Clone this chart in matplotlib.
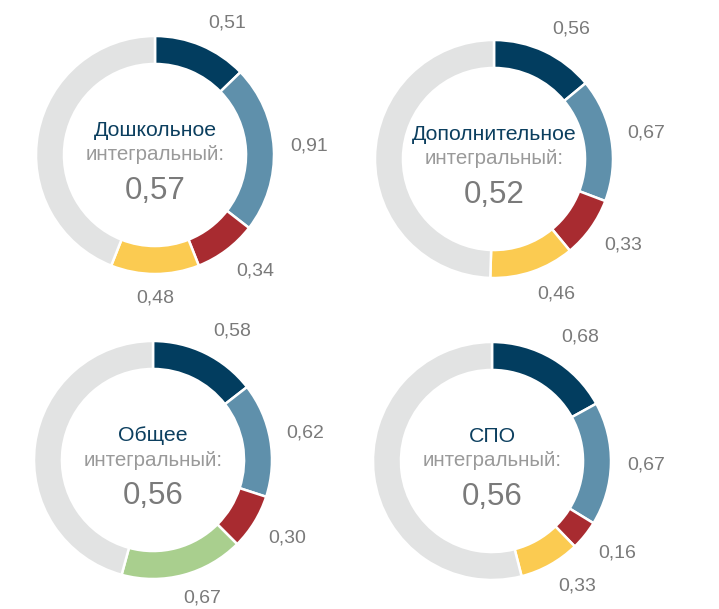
import numpy as np
import matplotlib
matplotlib.use("Agg")
import matplotlib.pyplot as plt

plt.rcParams['font.family'] = ['Liberation Sans', 'DejaVu Sans']

# Data
titles = ["Дошкольное", "Дополнительное", "Общее", "СПО"]
integral = [0.57, 0.52, 0.56, 0.56]
doshkolnoe = [0.51, 0.91, 0.34, 0.48]
dopolnitelnoe = [0.56, 0.67, 0.33, 0.46]
obshchee = [0.58, 0.62, 0.30, 0.67]
spo = [0.68, 0.67, 0.16, 0.33]
series = [doshkolnoe, dopolnitelnoe, obshchee, spo]

NAVY = "#023d5f"
STEEL = "#5f90ab"
RED = "#a82b30"
YELLOW = "#fbcb51"
GREEN = "#a9cf8e"
REST = "#e2e3e3"
TEXT_GREY = "#7a7a7a"
seg_colors = [
    [NAVY, STEEL, RED, YELLOW],
    [NAVY, STEEL, RED, YELLOW],
    [NAVY, STEEL, RED, GREEN],
    [NAVY, STEEL, RED, YELLOW],
]

W, H = 719, 609
fig = plt.figure(figsize=(W / 100, H / 100), dpi=100)

# donut centres and outer radius in pixels (from top-left)
centres = [(155, 155), (494, 159), (153, 460), (492, 461)]
R = 119
LIM = 1.45

LABEL_R = 1.135      # distance of the label's nearest corner from the centre
HALF_W_PT = 14.0     # half width of a value label, points
HALF_H_PT = 5.4      # half height of a value label, points

def fmt(v):
    return f"{v:.2f}".replace(".", ",")

for i, vals in enumerate(series):
    cx, cy = centres[i]
    half = LIM * R
    ax = fig.add_axes([(cx - half) / W, (H - cy - half) / H, 2 * half / W, 2 * half / H])

    parts = [v / 4 for v in vals]
    parts.append(1 - sum(parts))
    wedges, _ = ax.pie(parts, colors=seg_colors[i] + [REST], startangle=90,
                       counterclock=False, radius=1.0, normalize=False,
                       wedgeprops=dict(width=0.235, edgecolor="white", linewidth=1.8))
    ax.set_xlim(-LIM, LIM)
    ax.set_ylim(-LIM, LIM)
    ax.set_aspect("equal")
    ax.axis("off")

    for w, v in zip(wedges[:4], vals):
        mid = np.deg2rad((w.theta1 + w.theta2) / 2)
        ux, uy = np.cos(mid), np.sin(mid)
        x, y = LABEL_R * ux, LABEL_R * uy
        ox = HALF_W_PT * np.clip(3 * ux, -1, 1)
        oy = HALF_H_PT * np.clip(3 * uy, -1, 1)
        ax.annotate(fmt(v), (x, y), xytext=(ox, oy),
                    textcoords="offset points", ha="center", va="center",
                    fontsize=14, color=TEXT_GREY, annotation_clip=False)

    ax.text(0, 0.21, titles[i], ha="center", va="center", fontsize=15.3,
            color="#0c3f5f")
    ax.text(0, 0.0, "интегральный:", ha="center", va="center", fontsize=14.8,
            color="#9a9a9a")
    ax.text(0, -0.30, fmt(integral[i]), ha="center", va="center", fontsize=22.5,
            color=TEXT_GREY)

fig.savefig("out.png", dpi=100, facecolor="white")
